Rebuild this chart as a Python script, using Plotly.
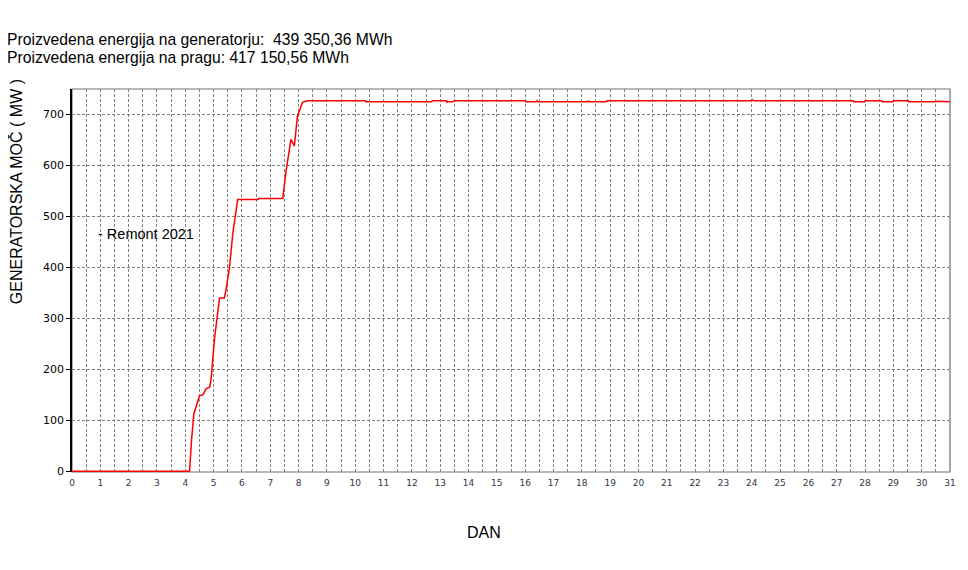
import plotly.graph_objects as go

# --- data ---
days = [0, 4.15, 4.22, 4.30, 4.40, 4.50, 4.56, 4.62, 4.74, 4.86, 4.91, 5.03, 5.12, 5.21,
        5.38, 5.44, 5.56, 5.68, 5.85, 6.58, 6.60, 7.44, 7.55, 7.64, 7.73, 7.79, 7.85, 7.96,
        8.08, 8.14, 8.31, 10.36, 10.38, 12.70, 12.72, 13.22, 13.24, 13.26, 13.45, 13.50,
        14.76, 14.78, 16.00, 16.02, 16.38, 16.42, 16.44, 18.22, 18.24, 18.26, 18.30, 18.32,
        18.86, 18.88, 18.90, 18.92, 23.98, 24.02, 24.06, 27.58, 27.60, 27.98, 28.00, 28.58,
        28.60, 28.98, 29.00, 29.52, 29.55, 30.50, 30.54, 31.0]
power = [0, 0, 60, 112, 130, 148, 149, 150, 162, 165, 180, 259, 300, 340,
         340, 357, 399, 468, 533, 533, 535, 535, 586, 620, 651, 645, 638, 697,
         718, 724, 727, 727, 725, 725, 727, 727, 724, 725, 725, 727,
         727, 727, 727, 725, 725, 727, 725, 725, 727, 725, 725, 725,
         725, 727, 725, 727, 727, 729, 727, 727, 725, 725, 727, 727,
         725, 725, 727, 727, 725, 725, 726, 725]

x_ticks = list(range(0, 32))
y_ticks = [0, 100, 200, 300, 400, 500, 600, 700]

title_lines = ["Proizvedena energija na generatorju:  439 350,36 MWh",
               "Proizvedena energija na pragu: 417 150,56 MWh"]
series_name = "Remont 2021"

# plot area in page pixels (page has an 8px body margin)
PL, PR, PT, PB = 72, 953, 89, 472
PW, PH = PR - PL, PB - PT


def px(x):
    return (x - PL) / PW


def py(y):
    return (PB - y) / PH


fig = go.Figure()
fig.add_trace(go.Scatter(x=days, y=power, mode="lines", name=series_name,
                         line=dict(color="#ff0000", width=1.5), showlegend=False))

grid_style = dict(gridcolor="#808080", griddash="3px,2px", gridwidth=1)

fig.update_layout(
    width=960, height=562,
    margin=dict(l=PL - 8, r=8 + 960 - PR, t=PT - 8, b=8 + 562 - PB),
    paper_bgcolor="white", plot_bgcolor="white",
    font=dict(family="Liberation Sans, Arial, sans-serif", color="black"),
    xaxis=dict(range=[0, 31], tickvals=x_ticks, ticktext=[str(v) for v in x_ticks],
               showgrid=True, **grid_style,
               minor=dict(dtick=0.5, tick0=0, showgrid=True, gridcolor="#808080",
                          griddash="3px,2px", gridwidth=1),
               tickfont=dict(size=9, color="#333344", family="DejaVu Sans, sans-serif"),
               ticks="", ticklabelstandoff=4,
               showline=False, zeroline=False),
    yaxis=dict(range=[-1.5, 750], tickvals=y_ticks, showgrid=True, **grid_style,
               tickfont=dict(size=11, color="black", family="DejaVu Sans, sans-serif"),
               ticks="outside", ticklen=4,
               tickcolor="black", showline=True, linecolor="black", linewidth=1.5,
               zeroline=False),
    shapes=[dict(type="rect", xref="paper", yref="paper", x0=0, x1=1, y0=0, y1=1,
                 line=dict(color="#707070", width=1.2), layer="below")],
)

fig.add_annotation(xref="paper", yref="paper", x=px(5), y=py(40), text=title_lines[0],
                   showarrow=False, xanchor="left", yanchor="middle", font=dict(size=15.7))
fig.add_annotation(xref="paper", yref="paper", x=px(5), y=py(58), text=title_lines[1],
                   showarrow=False, xanchor="left", yanchor="middle", font=dict(size=15.7))

# legend-like label
fig.add_annotation(xref="paper", yref="paper", x=px(96), y=py(234),
                   text="- " + series_name, showarrow=False, xanchor="left",
                   yanchor="middle", font=dict(size=14.5))
# axis titles
fig.add_annotation(xref="paper", yref="paper", x=px(16), y=py(192),
                   text="GENERATORSKA MOČ ( MW )", textangle=-90, showarrow=False,
                   xanchor="center", yanchor="middle", font=dict(size=16))
fig.add_annotation(xref="paper", yref="paper", x=px(485), y=py(532),
                   text="DAN", showarrow=False, xanchor="center", yanchor="middle",
                   font=dict(size=16, family="Liberation Sans Narrow, Arial Narrow, sans-serif"))

fig.write_html("out.html")
